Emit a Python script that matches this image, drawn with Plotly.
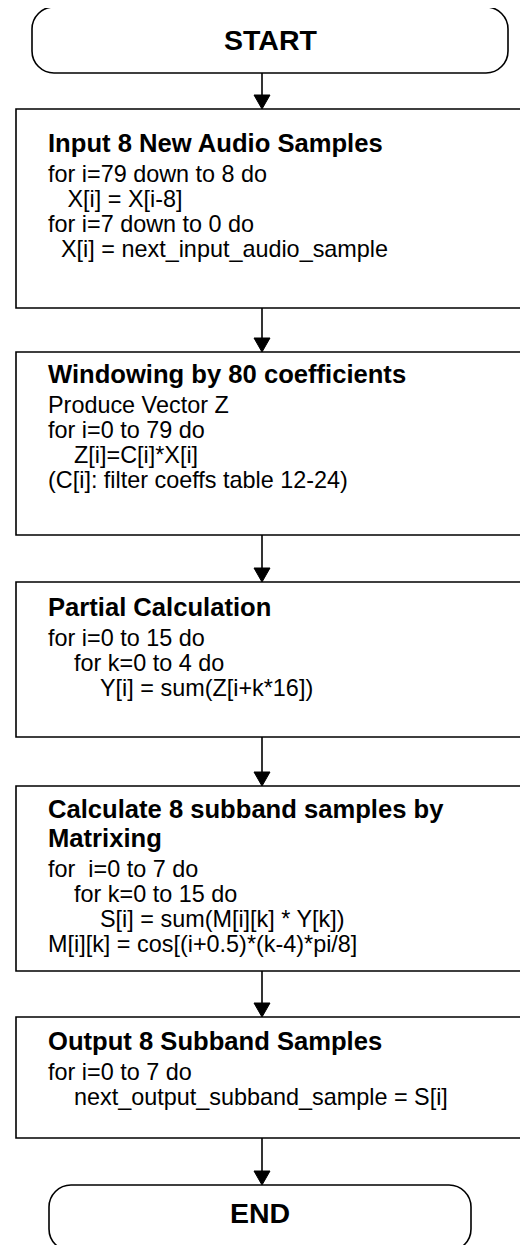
import plotly.graph_objects as go

# ---------------- content (data) ----------------
terminal_labels = ["START", "END"]

step_titles = [
    ["Input 8 New Audio Samples"],
    ["Windowing by 80 coefficients"],
    ["Partial Calculation"],
    ["Calculate 8 subband samples by", "Matrixing"],
    ["Output 8 Subband Samples"],
]

step_bodies = [
    ["for i=79 down to 8 do",
     "   X[i] = X[i-8]",
     "for i=7 down to 0 do",
     "  X[i] = next_input_audio_sample"],
    ["Produce Vector Z",
     "for i=0 to 79 do",
     "    Z[i]=C[i]*X[i]",
     "(C[i]: filter coeffs table 12-24)"],
    ["for i=0 to 15 do",
     "    for k=0 to 4 do",
     "        Y[i] = sum(Z[i+k*16])"],
    ["for  i=0 to 7 do",
     "    for k=0 to 15 do",
     "        S[i] = sum(M[i][k] * Y[k])",
     "M[i][k] = cos[(i+0.5)*(k-4)*pi/8]"],
    ["for i=0 to 7 do",
     "    next_output_subband_sample = S[i]"],
]

# ---------------- layout constants (pixels) ----------------
W, H = 528, 1245
PAGE_OFF = 8          # default page body margin
FONT = "Liberation Sans, Arial, sans-serif"
BODY_SIZE = 23.4
TITLE_SIZE = 25.6
TERM_SIZE = 28.5
LINE = "#000000"
LW = 1.6

box_x0, box_x1 = 16, 522
box_tops = [109, 352, 582, 786, 1017]
box_bottoms = [308, 535, 737, 971, 1138]
title_offsets = [43, 31, 34, 32, 33]
TITLE_PITCH = 29
TITLE_TO_BODY = 30
BODY_PITCH = 25
TEXT_X = 47

term_boxes = [(32, 7, 508, 73), (49, 1185, 471, 1251)]
term_baselines = [50, 1223]
TERM_R = 22
ARROW_X = 262
HEAD_H, HEAD_HW = 14, 8

shapes = []
annotations = []


def mid_from_baseline(baseline, size):
    return baseline - 0.3465 * size


def rounded_path(x0, y0, x1, y1, r):
    k = 0.5523 * r
    return (f"M {x0 + r},{y0} L {x1 - r},{y0} "
            f"C {x1 - r + k},{y0} {x1},{y0 + r - k} {x1},{y0 + r} "
            f"L {x1},{y1 - r} "
            f"C {x1},{y1 - r + k} {x1 - r + k},{y1} {x1 - r},{y1} "
            f"L {x0 + r},{y1} "
            f"C {x0 + r - k},{y1} {x0},{y1 - r + k} {x0},{y1 - r} "
            f"L {x0},{y0 + r} "
            f"C {x0},{y0 + r - k} {x0 + r - k},{y0} {x0 + r},{y0} Z")


def add_text(text, x, baseline, size, bold=False, xanchor="left"):
    t = text
    n = len(t) - len(t.lstrip(" "))
    t = "\u00a0" * n + t.lstrip(" ")
    t = t.replace("  ", "\u00a0 ")
    if bold:
        t = f"<b>{t}</b>"
    annotations.append(dict(
        x=x, y=mid_from_baseline(baseline, size), xref="x", yref="y",
        text=t, showarrow=False, xanchor=xanchor, yanchor="middle",
        font=dict(family=FONT, size=size, color="#000000"),
        borderpad=0,
    ))


# terminals
for label, (x0, y0, x1, y1), bl in zip(terminal_labels, term_boxes, term_baselines):
    shapes.append(dict(type="path", xref="x", yref="y",
                       path=rounded_path(x0, y0, x1, y1, TERM_R),
                       line=dict(color=LINE, width=LW), fillcolor="white"))
    add_text(label, (x0 + x1) / 2, bl, TERM_SIZE, bold=True, xanchor="center")

# process boxes
for i, (titles, body) in enumerate(zip(step_titles, step_bodies)):
    top, bot = box_tops[i], box_bottoms[i]
    shapes.append(dict(type="rect", xref="x", yref="y",
                       x0=box_x0, x1=box_x1, y0=top, y1=bot,
                       line=dict(color=LINE, width=LW), fillcolor="white"))
    bl = top + title_offsets[i]
    for j, tl in enumerate(titles):
        add_text(tl, TEXT_X, bl + j * TITLE_PITCH, TITLE_SIZE, bold=True)
    bl = bl + (len(titles) - 1) * TITLE_PITCH + TITLE_TO_BODY
    for j, ln in enumerate(body):
        add_text(ln, TEXT_X, bl + j * BODY_PITCH, BODY_SIZE)

# arrows between consecutive elements
starts = [term_boxes[0][3]] + box_bottoms
ends = box_tops + [term_boxes[1][1]]
for s, e in zip(starts, ends):
    shapes.append(dict(type="line", xref="x", yref="y",
                       x0=ARROW_X, x1=ARROW_X, y0=s, y1=e - HEAD_H + 1,
                       line=dict(color=LINE, width=LW)))
    shapes.append(dict(type="path", xref="x", yref="y",
                       path=f"M {ARROW_X - HEAD_HW},{e - HEAD_H} L {ARROW_X + HEAD_HW},{e - HEAD_H} L {ARROW_X},{e} Z",
                       line=dict(color=LINE, width=1), fillcolor=LINE))

fig = go.Figure()
fig.add_trace(go.Scatter(x=[PAGE_OFF, W], y=[PAGE_OFF, H], mode="markers",
                         marker=dict(opacity=0), hoverinfo="skip", showlegend=False))
fig.update_layout(
    width=W, height=H,
    margin=dict(l=0, r=0, t=0, b=0),
    paper_bgcolor="white", plot_bgcolor="white",
    xaxis=dict(range=[PAGE_OFF, W + PAGE_OFF], visible=False, fixedrange=True),
    yaxis=dict(range=[H + PAGE_OFF, PAGE_OFF], visible=False, fixedrange=True),
    shapes=shapes, annotations=annotations, showlegend=False,
)
fig.write_html("out.html")
